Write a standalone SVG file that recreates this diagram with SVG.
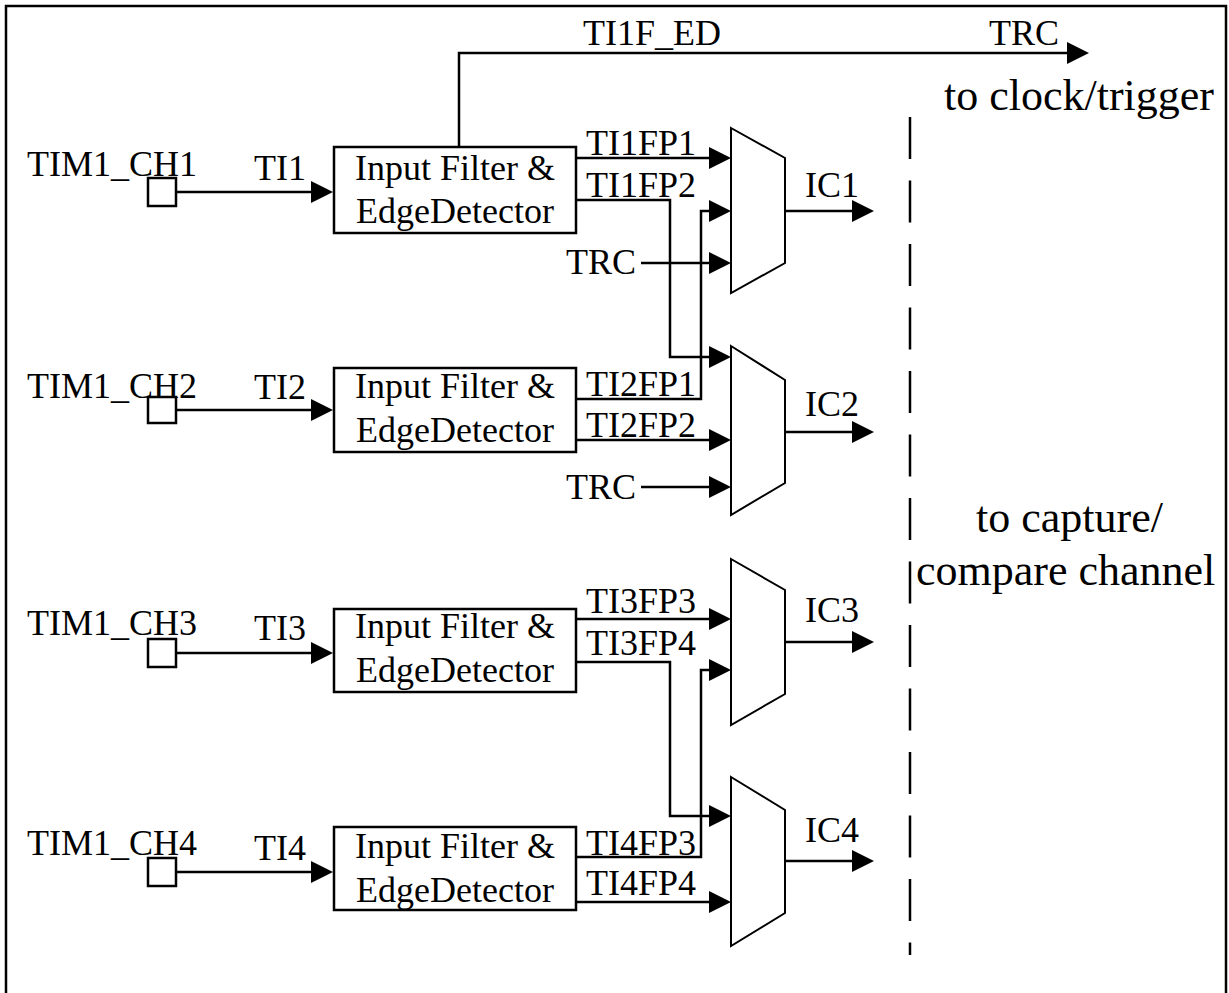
<svg xmlns="http://www.w3.org/2000/svg" width="1229" height="993" viewBox="0 0 1229 993">
<style>
.t{font-family:"Liberation Serif","Times New Roman",serif;font-size:36px;fill:#000}
.b{font-family:"Liberation Serif","Times New Roman",serif;font-size:44px;fill:#000}
.c{text-anchor:middle}
.box{fill:#fff;stroke:#000;stroke-width:2.5}
.mux{fill:#fff;stroke:#000;stroke-width:2}
.w{fill:none;stroke:#000;stroke-width:2.5}
.a{marker-end:url(#ah)}
</style>
<defs>
<marker id="ah" viewBox="0 0 22 22" refX="18" refY="11" markerWidth="22" markerHeight="22" markerUnits="userSpaceOnUse" orient="auto">
<path d="M0,0 L22,11 L0,22 z" fill="#000"/>
</marker>
</defs>
<rect x="0" y="0" width="1229" height="993" fill="#fff"/>
<rect id="frame" x="6" y="6" width="1220" height="1000" fill="none" stroke="#000" stroke-width="2.5"/>

<g id="connectors">
<path class="w a" d="M176,192 H329"/>
<path class="w a" d="M176,410 H329"/>
<path class="w a" d="M176,653 H329"/>
<path class="w a" d="M176,872 H329"/>
<path class="w a" d="M459,147 V53 H1085"/>
<path class="w a" d="M576,158 H727"/>
<path class="w a" d="M576,200 H670 V357 H727"/>
<path class="w a" d="M576,399 H701 V211 H727"/>
<path class="w a" d="M576,440 H727"/>
<path class="w a" d="M641,263 H727"/>
<path class="w a" d="M641,487 H727"/>
<path class="w a" d="M576,619 H727"/>
<path class="w a" d="M576,662 H670 V816 H727"/>
<path class="w a" d="M576,857 H701 V670 H727"/>
<path class="w a" d="M576,902 H727"/>
<path class="w a" d="M785,211 H870"/>
<path class="w a" d="M785,432 H870"/>
<path class="w a" d="M785,642 H870"/>
<path class="w a" d="M785,861 H870"/>
<path d="M910,117 V955" fill="none" stroke="#000" stroke-width="2.5" stroke-dasharray="42 21.5"/>
</g>

<g id="pad1"><rect class="box" x="148" y="178" width="28" height="28"/><text class="t" x="27" y="176">TIM1_CH1</text></g>
<g id="pad2"><rect class="box" x="148" y="397" width="28" height="26"/><text class="t" x="27" y="398">TIM1_CH2</text></g>
<g id="pad3"><rect class="box" x="148" y="639" width="28" height="28"/><text class="t" x="27" y="635">TIM1_CH3</text></g>
<g id="pad4"><rect class="box" x="148" y="858" width="28" height="28"/><text class="t" x="27" y="855">TIM1_CH4</text></g>

<g id="labels-ti">
<text class="t" x="254" y="180">TI1</text>
<text class="t" x="254" y="399">TI2</text>
<text class="t" x="254" y="640">TI3</text>
<text class="t" x="254" y="860">TI4</text>
</g>

<g id="filter1"><rect class="box" x="334" y="147" width="242" height="86"/><text class="t c" x="455" y="180">Input Filter &amp;</text><text class="t c" x="455" y="223">EdgeDetector</text></g>
<g id="filter2"><rect class="box" x="334" y="368" width="242" height="84"/><text class="t c" x="455" y="398">Input Filter &amp;</text><text class="t c" x="455" y="442">EdgeDetector</text></g>
<g id="filter3"><rect class="box" x="334" y="609" width="242" height="83"/><text class="t c" x="455" y="638">Input Filter &amp;</text><text class="t c" x="455" y="682">EdgeDetector</text></g>
<g id="filter4"><rect class="box" x="334" y="827" width="242" height="83"/><text class="t c" x="455" y="858">Input Filter &amp;</text><text class="t c" x="455" y="902">EdgeDetector</text></g>

<g id="mux1"><path class="mux" d="M731,128 L785,158 L785,263 L731,293 z"/><text class="t" x="805" y="197">IC1</text></g>
<g id="mux2"><path class="mux" d="M731,346 L785,380 L785,483 L731,515 z"/><text class="t" x="805" y="416">IC2</text></g>
<g id="mux3"><path class="mux" d="M731,559 L785,590 L785,694 L731,725 z"/><text class="t" x="805" y="622">IC3</text></g>
<g id="mux4"><path class="mux" d="M731,777 L785,810 L785,913 L731,946 z"/><text class="t" x="805" y="842">IC4</text></g>

<g id="signal-labels">
<text class="t" x="586" y="155">TI1FP1</text>
<text class="t" x="586" y="197">TI1FP2</text>
<text class="t" x="586" y="396">TI2FP1</text>
<text class="t" x="586" y="437">TI2FP2</text>
<text class="t" x="586" y="613">TI3FP3</text>
<text class="t" x="586" y="655">TI3FP4</text>
<text class="t" x="586" y="855">TI4FP3</text>
<text class="t" x="586" y="895">TI4FP4</text>
<text class="t" x="566" y="274">TRC</text>
<text class="t" x="566" y="499">TRC</text>
<text class="t" x="583" y="45">TI1F_ED</text>
<text class="t" x="989" y="45">TRC</text>
</g>

<g id="notes">
<text class="b" x="944" y="110">to clock/trigger</text>
<text class="b" x="976" y="532">to capture/</text>
<text class="b" x="916" y="585">compare channel</text>
</g>
</svg>
